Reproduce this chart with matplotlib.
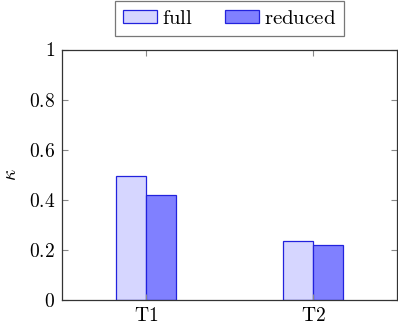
import numpy as np
import matplotlib
matplotlib.use("Agg")
import matplotlib.pyplot as plt

# data
tasks = ["T1", "T2"]
full = [0.495, 0.237]
reduced = [0.42, 0.22]

plt.rcParams["mathtext.fontset"] = "cm"
plt.rcParams["font.family"] = ["DejaVu Serif"]

fig = plt.figure(figsize=(3.98, 3.30), dpi=100)
ax = fig.add_axes([62 / 398, 30 / 330, 335 / 398, 250.5 / 330])

x = np.arange(1, len(tasks) + 1)
width = 0.18
ax.bar(x - width / 2, full, width, color="#d6d6ff", edgecolor="#2222dd",
       linewidth=0.9, label=r"$\mathrm{full}$")
ax.bar(x + width / 2, reduced, width, color="#8080ff", edgecolor="#2222dd",
       linewidth=0.9, label=r"$\mathrm{reduced}$")

ax.set_xlim(0.5, 2.5)
ax.set_ylim(0, 1)
ax.set_xticks(x)
ax.set_xticklabels([r"$\mathrm{%s}$" % t for t in tasks], fontsize=14)
yt = [0, 0.2, 0.4, 0.6, 0.8, 1]
ax.set_yticks(yt)
ax.set_yticklabels([r"$%g$" % v for v in yt], fontsize=14)
ax.set_ylabel(r"$\kappa$", fontsize=14, labelpad=6)

ax.tick_params(direction="in", top=True, right=True, length=4,
               color="#888888", width=0.8, pad=5)
for s in ax.spines.values():
    s.set_linewidth(0.9)
    s.set_color("#333333")

leg = ax.legend(loc="lower center", bbox_to_anchor=(0.5, 1.055), ncol=2,
                fontsize=15, frameon=True, fancybox=False, edgecolor="#555555",
                handlelength=1.65, handleheight=0.55, handletextpad=0.25,
                columnspacing=1.5, borderpad=0.38, borderaxespad=0)
leg.get_frame().set_linewidth(0.9)

fig.savefig("out.png", dpi=100)
